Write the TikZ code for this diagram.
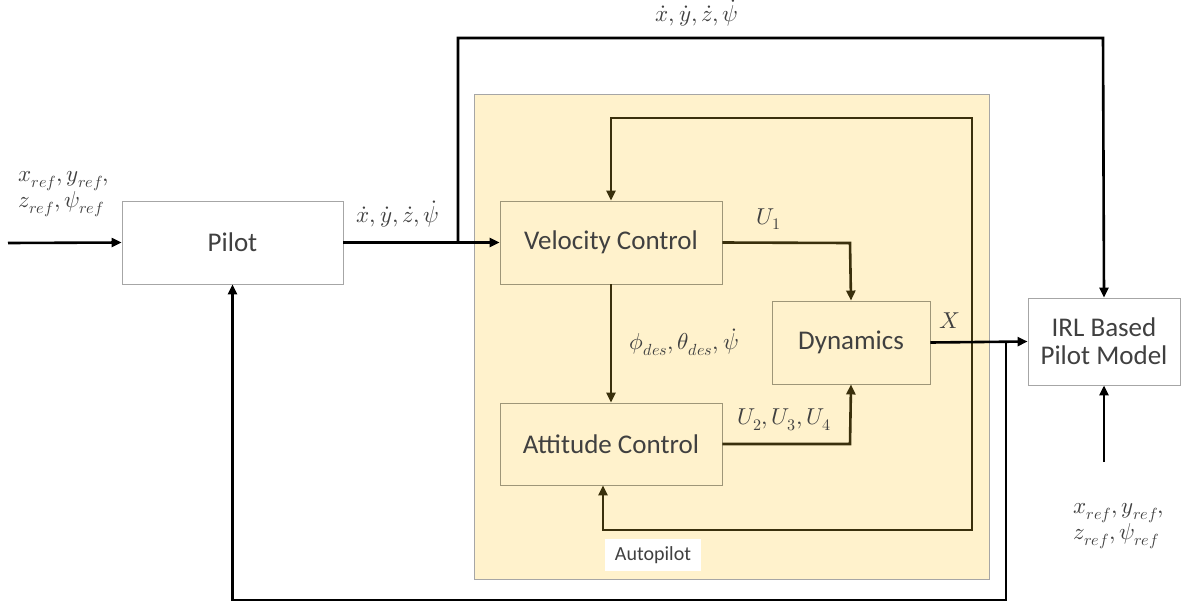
\documentclass[tikz,border=0pt]{standalone}
\usepackage{fontspec}
\setmainfont{Carlito}
\usepackage{unicode-math}
\setmathfont{Latin Modern Math}
\usetikzlibrary{arrows.meta}
\definecolor{apfill}{HTML}{FFF2CC}
\definecolor{apborder}{HTML}{A6A6A6}
\definecolor{boxborder}{HTML}{9E9678}
\definecolor{innerline}{HTML}{3A300C}
\definecolor{txt}{HTML}{404040}
\tikzset{
  blk/.style={draw=#1, line width=0.9pt, text=txt, font=\fontsize{27}{30}\selectfont, align=center, inner sep=0pt},
  blk/.default=apborder,
  arr/.style={line width=2.6pt, black, -{Triangle[length=10pt,width=9pt]}},
  inarr/.style={line width=2.6pt, innerline, -{Triangle[length=10pt,width=9pt]}},
  lbl/.style={text=txt, font=\fontsize{23}{24}\selectfont, inner sep=0pt, align=left},
}
\begin{document}
\begin{tikzpicture}[x=1pt,y=-1pt]
\useasboundingbox (0,0) rectangle (1182,605);
\fill[white] (0,0) rectangle (1182,605);
% autopilot region
\node[draw=apborder, fill=apfill, line width=0.9pt, minimum width=515pt, minimum height=485pt, inner sep=0pt] (ap) at (731.5,336.5) {};
\node[fill=white, text=txt, font=\fontsize{20}{22}\selectfont, minimum width=96pt, minimum height=32pt, inner sep=0pt] (aplbl) at (653,555) {Autopilot};
% blocks
\node[blk, fill=white, minimum width=221pt, minimum height=83pt] (pilot) at (232.5,242.5) {Pilot};
\node[blk=boxborder, fill=apfill, minimum width=222pt, minimum height=83pt] (vel) at (611,242.5) {Velocity Control};
\node[blk=boxborder, fill=apfill, minimum width=222pt, minimum height=82pt] (att) at (611,444) {Attitude Control};
\node[blk=boxborder, fill=apfill, minimum width=158pt, minimum height=83pt] (dyn) at (851,342.5) {Dynamics};
\node[blk, fill=white, minimum width=152pt, minimum height=87pt] (irl) at (1104,341.5) {IRL Based\\[-2pt]Pilot Model};
% coordinates
\coordinate (in) at (8,243);
\coordinate (br) at (458,243);
\coordinate (topL) at (458,38);
\coordinate (topR) at (1103,38);
\coordinate (jX) at (972,343);
\coordinate (jO) at (1006,343);
\coordinate (fbTop) at (972,118);
\coordinate (fbBot) at (972,530);
\coordinate (obot) at (1006,600);
\coordinate (refin) at (1104,462);
\coordinate (u1c) at (850,243);
\coordinate (u2c) at (850,444);
% connectors
\draw[arr] (in) -- (pilot.west);
\draw[arr] (pilot.east) -- (vel.west);
\draw[arr] (br) -- (topL) -- (topR) -- (irl.north);
\draw[inarr] (vel.east) -- (u1c) -- (dyn.north);
\draw[inarr] (att.east) -- (u2c) -- (dyn.south);
\draw[inarr] (vel.south) -- (att.north);
\draw[inarr] (jX) -- (fbTop) -| (vel.north);
\draw[inarr] (jX) -- (fbBot) -| ([xshift=-8pt]att.south);
\draw[arr] (dyn.east) -- (irl.west);
\draw[arr] (jO) -- (obot) -| (pilot.south);
\draw[arr] (refin) -- (irl.south);
% labels
\node[lbl, anchor=center] (l1) at (64,194) {$x_{ref}, y_{ref},$\\$z_{ref}, \psi_{ref}$};
\node[lbl] (l2) at (398,214) {$\dot{x}, \dot{y}, \dot{z}, \dot{\psi}$};
\node[lbl] (l3) at (697,13) {$\dot{x}, \dot{y}, \dot{z}, \dot{\psi}$};
\node[lbl] (l4) at (769,219) {$U_1$};
\node[lbl] (l5) at (684,342) {$\phi_{des}, \theta_{des}, \dot{\psi}$};
\node[lbl] (l6) at (784,420) {$U_2, U_3, U_4$};
\node[lbl] (l7) at (950,321) {$X$};
\node[lbl] (l8) at (1119,526) {$x_{ref}, y_{ref},$\\$z_{ref}, \psi_{ref}$};
\end{tikzpicture}
\end{document}
